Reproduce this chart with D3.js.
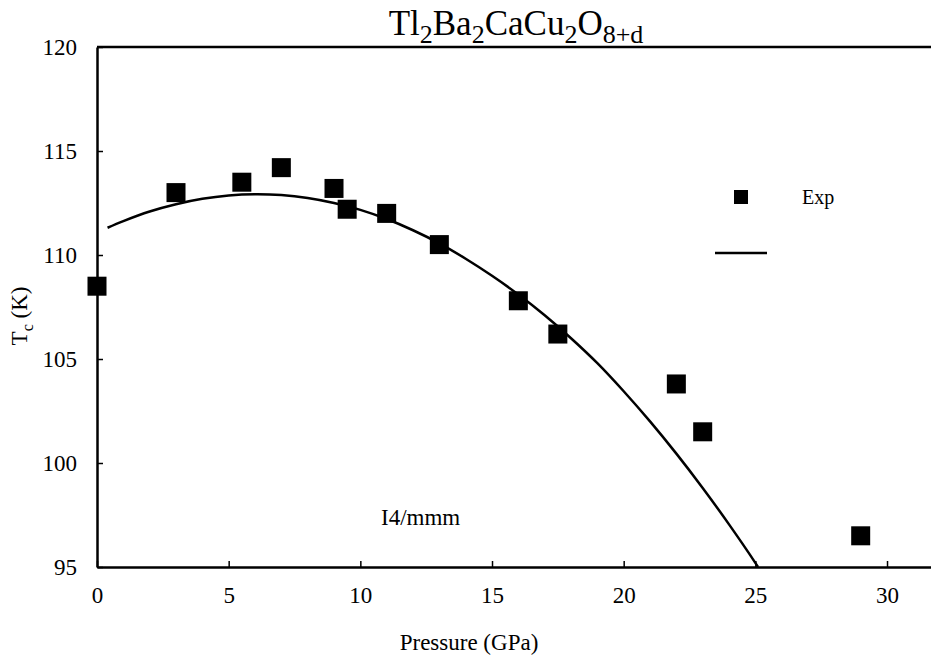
<!DOCTYPE html>
<html>
<head>
<meta charset="utf-8">
<script src="https://cdn.jsdelivr.net/npm/d3@7"></script>
<style>
  body { margin: 0; background: #fff; }
  svg text { font-family: "Liberation Serif", "Times New Roman", serif; fill: #000; }
</style>
</head>
<body>
<svg id="chart" width="931" height="657"></svg>
<script>
// measured points (Exp)
const pressure = [0, 3, 5.5, 7, 9, 9.5, 11, 13, 16, 17.5, 22, 23, 29];
const tc = [108.5, 113.0, 113.5, 114.2, 113.2, 112.2, 112.0, 110.5, 107.8, 106.2, 103.8, 101.5, 96.5];

// fitted curve
const fitP = [0.4, 1, 2, 3, 4, 5, 6, 7, 8, 9, 10, 11, 12, 13, 14, 15, 16, 17, 18, 19, 20, 21, 22, 23, 24, 25, 25.1];
const fitTc = [111.31, 111.63, 112.09, 112.44, 112.70, 112.86, 112.92, 112.88, 112.74, 112.50, 112.17, 111.73,
  111.19, 110.56, 109.82, 109.0, 108.1, 107.1, 106.0, 104.8, 103.45, 102.0, 100.45, 98.8, 97.05, 95.2, 95.0];

const xTicks = [0, 5, 10, 15, 20, 25, 30];
const yTicks = [95, 100, 105, 110, 115, 120];

const svg = d3.select("#chart");
const W = 931;
const plotLeft = 97, plotTop = 47, plotBottom = 567;
const serif = "'Liberation Serif', 'Times New Roman', serif";

const x = d3.scaleLinear().domain([0, 31.67]).range([plotLeft, W]);
const y = d3.scaleLinear().domain([95, 120]).range([plotBottom, plotTop]);

// x axis (ticks inward)
const gx = svg.append("g")
  .attr("transform", `translate(0,${plotBottom})`)
  .call(d3.axisBottom(x).tickValues(xTicks).tickSize(-6).tickSizeOuter(0).tickPadding(20));
// y axis
const gy = svg.append("g")
  .attr("transform", `translate(${plotLeft},0)`)
  .call(d3.axisLeft(y).tickValues(yTicks).tickSize(-6).tickSizeOuter(0).tickPadding(20));

[gx, gy].forEach(g => {
  g.attr("font-family", serif).attr("font-size", 23);
  g.select(".domain").attr("stroke", "#000").attr("stroke-width", 2.5);
  g.selectAll(".tick line").attr("stroke", "#000").attr("stroke-width", 1.5);
  g.selectAll(".tick text")
    .attr("font-family", serif)
    .style("font-family", serif)
    .style("font-size", "23px");
});

// top border
svg.append("line")
  .attr("x1", plotLeft).attr("x2", W)
  .attr("y1", plotTop).attr("y2", plotTop)
  .attr("stroke", "#000").attr("stroke-width", 2.5);

// fit curve
const line = d3.line()
  .x((d, i) => x(fitP[i]))
  .y(d => y(d))
  .curve(d3.curveCatmullRom);

svg.append("path")
  .datum(fitTc)
  .attr("d", line)
  .attr("fill", "none")
  .attr("stroke", "#000")
  .attr("stroke-width", 2.5);

// points
const sq = 19;
svg.append("g").selectAll("rect")
  .data(pressure)
  .join("rect")
  .attr("x", (d) => x(d) - sq / 2)
  .attr("y", (d, i) => y(tc[i]) - sq / 2)
  .attr("width", sq)
  .attr("height", sq)
  .attr("fill", "#000");

// legend
const lg = svg.append("g");
lg.append("rect")
  .attr("x", 734).attr("y", 190)
  .attr("width", 14).attr("height", 14)
  .attr("fill", "#000");
lg.append("text")
  .attr("x", 802).attr("y", 204)
  .style("font-size", "20px")
  .text("Exp");
lg.append("line")
  .attr("x1", 715).attr("x2", 767)
  .attr("y1", 253).attr("y2", 253)
  .attr("stroke", "#000").attr("stroke-width", 2.5);

// title with subscripts
const title = svg.append("text")
  .attr("x", 516).attr("y", 35)
  .attr("text-anchor", "middle")
  .style("font-size", "35px");
const parts = [["Tl", 0], ["2", 1], ["Ba", 0], ["2", 1], ["CaCu", 0], ["2", 1], ["O", 0], ["8+d", 1]];
parts.forEach(([t, sub], i) => {
  const prev = i > 0 ? parts[i - 1][1] : 0;
  const ts = title.append("tspan").text(t);
  if (sub) ts.attr("dy", prev ? 0 : 8).style("font-size", "26px");
  else ts.attr("dy", prev ? -8 : 0);
});

// axis titles
svg.append("text")
  .attr("x", 469).attr("y", 650)
  .attr("text-anchor", "middle")
  .style("font-size", "23px")
  .text("Pressure (GPa)");

const yl = svg.append("text")
  .attr("transform", "translate(27,316) rotate(-90)")
  .attr("text-anchor", "middle")
  .style("font-size", "23px");
yl.append("tspan").text("T");
yl.append("tspan").text("c").attr("dy", 6).style("font-size", "16px");
yl.append("tspan").text(" (K)").attr("dy", -6);

// phase label
svg.append("text")
  .attr("x", 381).attr("y", 525)
  .style("font-size", "23px")
  .text("I4/mmm");
</script>
</body>
</html>
